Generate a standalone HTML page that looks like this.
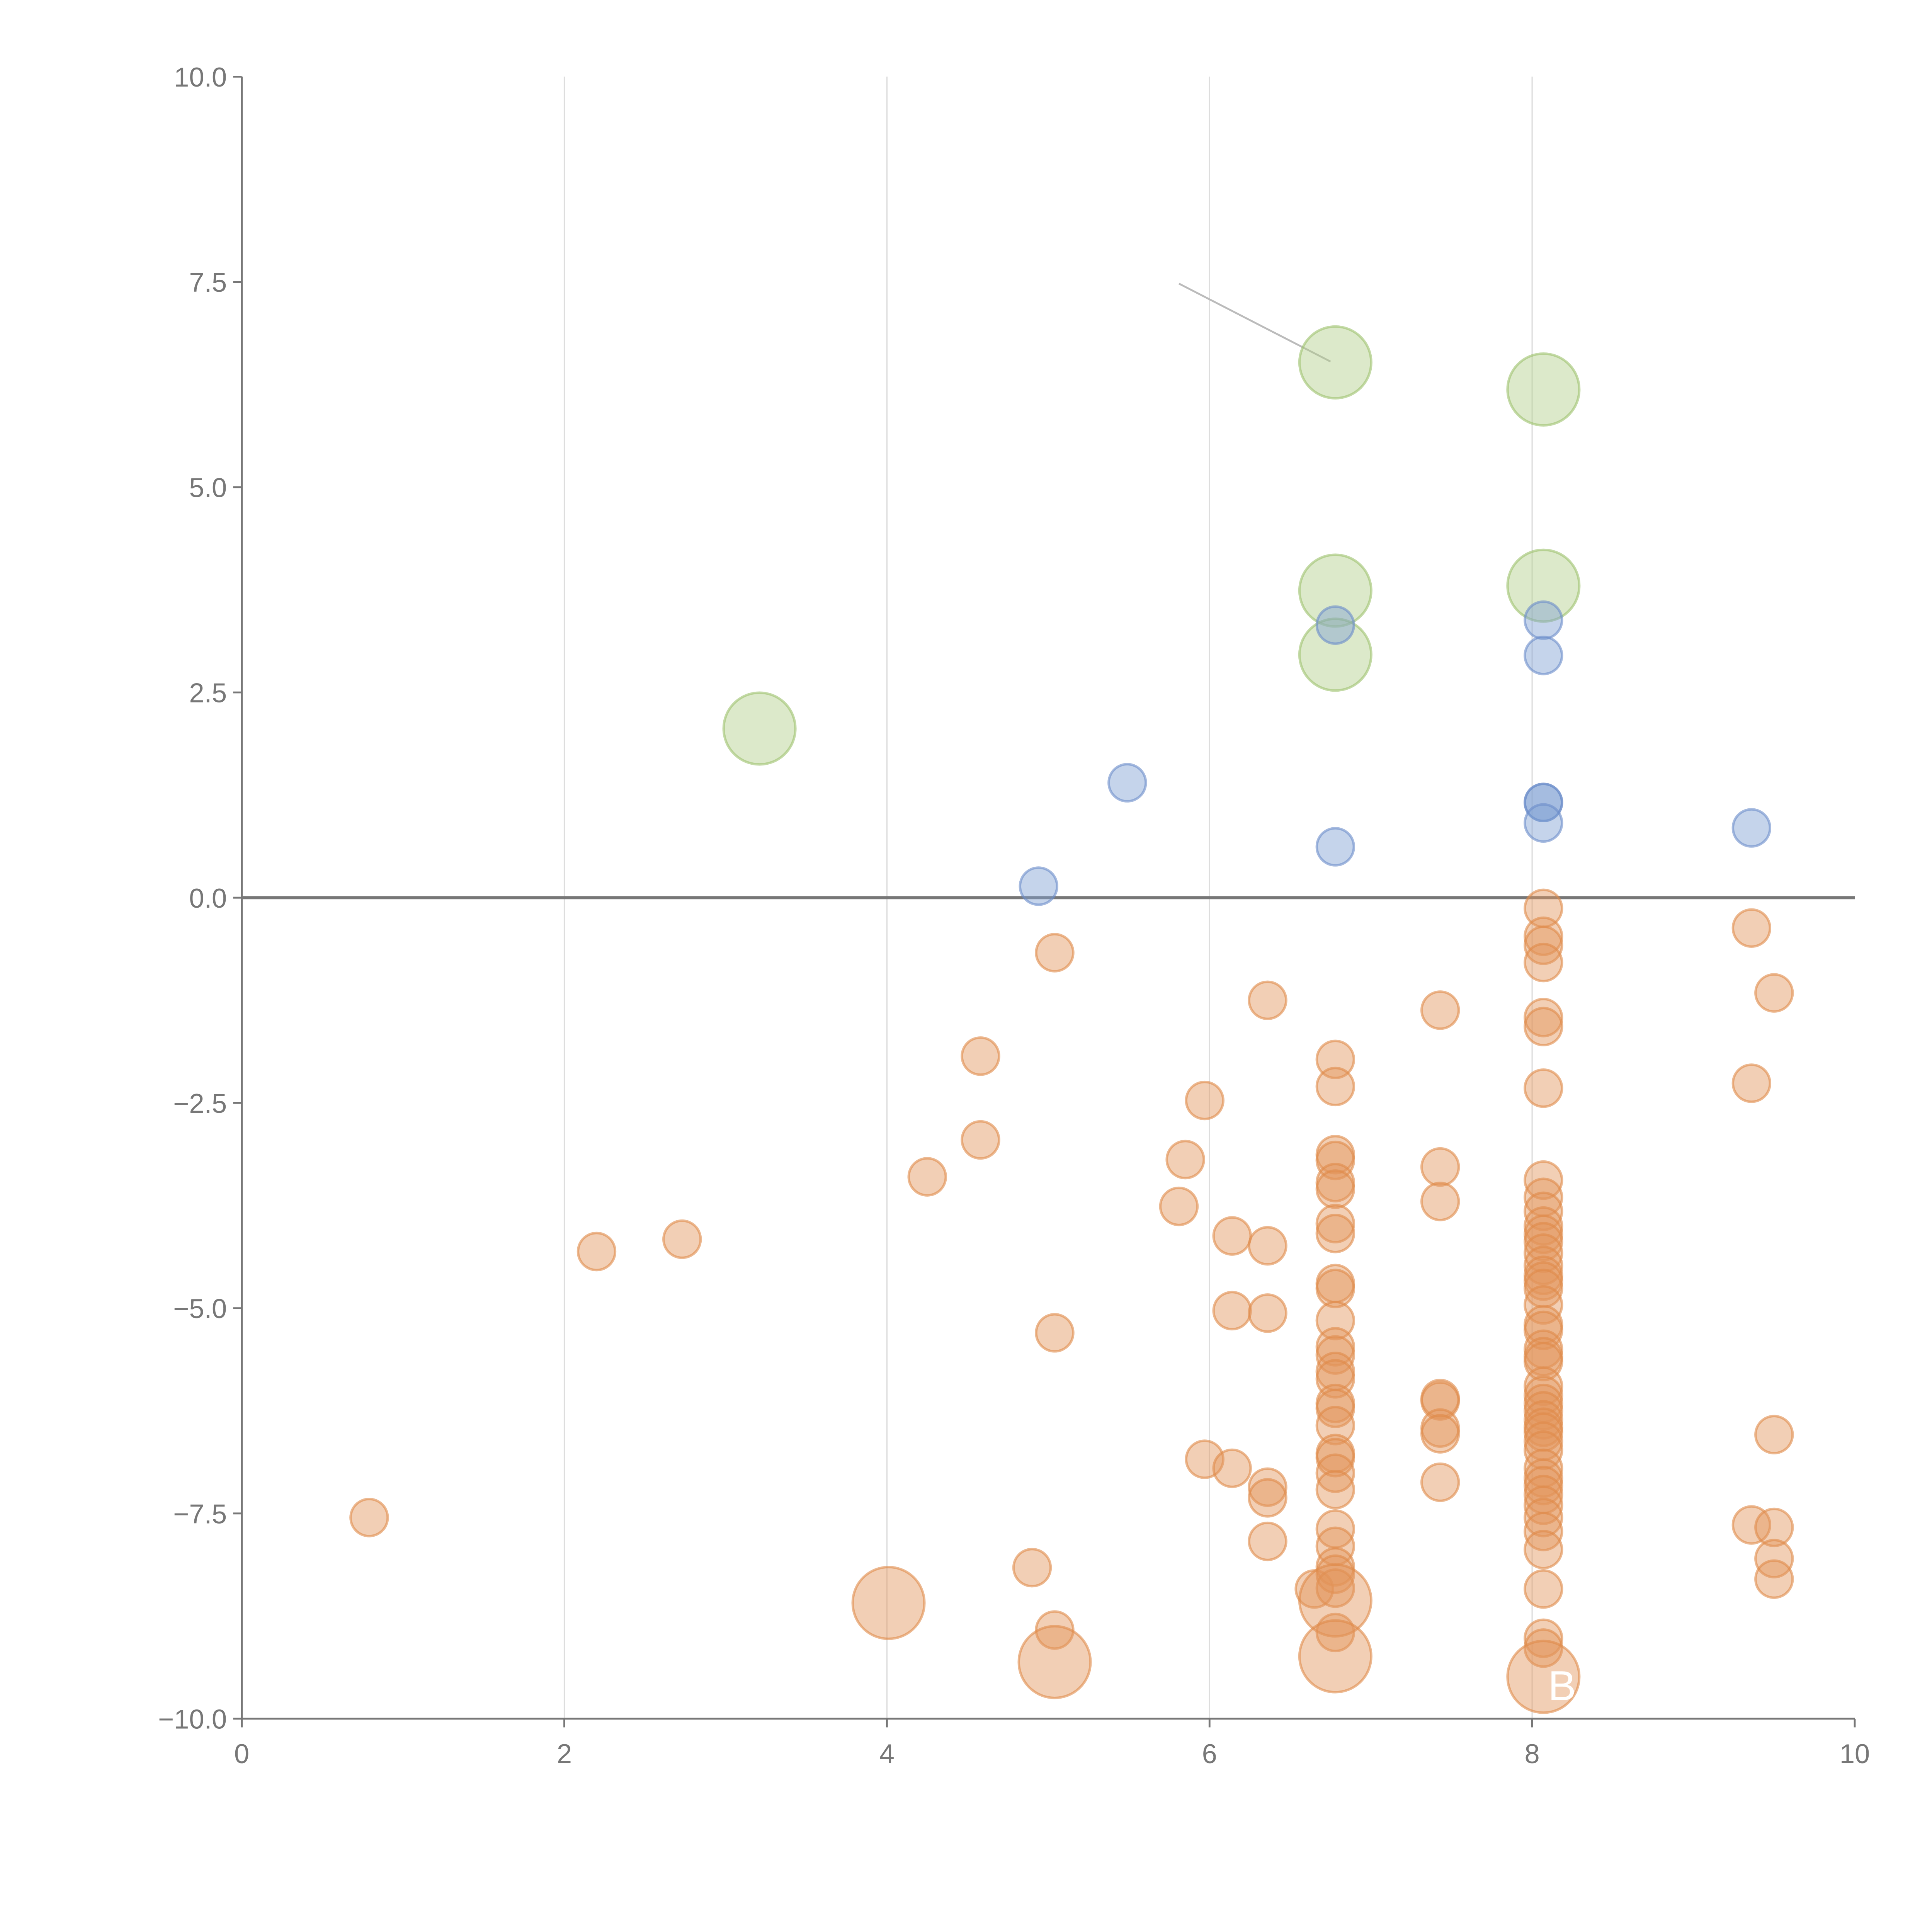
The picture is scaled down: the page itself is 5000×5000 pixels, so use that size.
<!DOCTYPE html>
<html><head><meta charset="utf-8"><style>html,body{margin:0;padding:0;background:#fff}svg{display:block}</style></head>
<body>
<svg id="chart" width="5000" height="5000" viewBox="0 0 1562.5 1562.5" xmlns="http://www.w3.org/2000/svg" font-family="Liberation Sans, sans-serif">
<g id="grid"></g>
<g id="axes"></g>
<line id="ann" stroke="#bbb" stroke-width="1.5"/>
<g id="marks"></g>
<text x="1252" y="1375" font-size="34" fill="#fff">B</text>
</svg>
<script>
const greenX=[3.21,6.78,8.07,6.78,8.07,6.78];
const greenY=[2.06,6.52,6.19,3.74,3.80,2.96];
const blueX=[4.94,5.49,6.78,6.78,8.07,8.07,8.07,8.07,8.07,9.36];
const blueY=[0.14,1.40,0.62,3.32,3.38,2.95,1.16,1.16,0.91,0.85];
const bigOrangeX=[4.01,5.04,6.78,6.78,8.07];
const bigOrangeY=[-8.59,-9.31,-8.56,-9.24,-9.49];
const orangeX=[0.79,2.20,2.73,4.25,4.58,4.58,5.04,5.04,4.90,5.04,5.85,5.81,5.97,5.97,6.14,6.14,6.14,6.36,6.36,6.36,6.36,6.36,6.36,6.65,
6.78,6.78,6.78,6.78,6.78,6.78,6.78,6.78,6.78,6.78,6.78,6.78,6.78,6.78,6.78,6.78,6.78,6.78,6.78,6.78,6.78,6.78,6.78,6.78,6.78,6.78,6.78,6.78,
7.43,7.43,7.43,7.43,7.43,7.43,7.43,7.43,
8.07,8.07,8.07,8.07,8.07,8.07,8.07,8.07,8.07,8.07,8.07,8.07,8.07,8.07,8.07,8.07,8.07,8.07,8.07,8.07,8.07,8.07,8.07,8.07,8.07,8.07,8.07,8.07,8.07,8.07,8.07,8.07,8.07,8.07,8.07,8.07,8.07,8.07,8.07,8.07,8.07,8.07,8.07,8.07,
9.36,9.36,9.36,9.50,9.50,9.50,9.50,9.50];
const orangeY=[-7.55,-4.31,-4.16,-3.40,-1.93,-2.95,-0.67,-5.30,-8.16,-8.92,-3.19,-3.76,-2.47,-6.84,-4.12,-5.03,-6.95,-1.25,-4.24,-5.06,-7.18,-7.31,-7.84,-8.42,
-1.97,-2.30,-3.13,-3.20,-3.47,-3.55,-3.97,-4.09,-4.70,-4.76,-5.15,-5.47,-5.57,-5.77,-5.86,-6.16,-6.22,-6.43,-6.77,-6.82,-7.01,-7.21,-7.69,-7.90,-8.15,-8.24,-8.41,-8.95,
-1.37,-3.28,-3.70,-6.10,-6.13,-6.46,-6.53,-7.12,
-0.13,-0.47,-0.58,-0.79,-1.46,-1.57,-2.32,-3.44,-3.65,-3.82,-4.00,-4.10,-4.19,-4.33,-4.48,-4.60,-4.67,-4.76,-4.96,-5.20,-5.27,-5.50,-5.59,-5.65,-5.95,-6.06,-6.16,-6.25,-6.36,-6.45,-6.51,-6.62,-6.73,-6.95,-7.07,-7.16,-7.27,-7.40,-7.55,-7.72,-7.94,-8.42,-9.02,-9.14,
-0.37,-2.26,-7.64,-1.16,-6.54,-7.67,-8.05,-8.30];
const xTicks=[0,2,4,6,8,10];
const yTicks=[10,7.5,5,2.5,0,-2.5,-5,-7.5,-10];
const yTickLabels=["10.0","7.5","5.0","2.5","0.0","\u22122.5","\u22125.0","\u22127.5","\u221210.0"];
const annX=[5.81,6.75], annY=[7.48,6.53];

const X0=195.5,X1=1500,Y0=1390,Y1=62;
const sx=v=>X0+(v-0)/(10-0)*(X1-X0);
const sy=v=>Y0-(v+10)/20*(Y0-Y1);
const NS="http://www.w3.org/2000/svg";
function mk(parent,tag,attrs){const e=document.createElementNS(NS,tag);for(const k in attrs)e.setAttribute(k,attrs[k]);parent.appendChild(e);return e;}
const grid=document.getElementById('grid'),axes=document.getElementById('axes'),marks=document.getElementById('marks');
xTicks.forEach(t=>{
  if(t>0&&t<10){const g=mk(grid,'line',{x1:sx(t),x2:sx(t),y1:Y1,y2:Y0,stroke:'#ddd','stroke-width':1});
  
  }
  const tk=mk(axes,'line',{x1:sx(t),x2:sx(t),y1:Y0,y2:Y0+7,stroke:'#777','stroke-width':1.5});
  
  
  const tx=mk(axes,'text',{x:sx(t),y:Y0+36,'text-anchor':'middle','font-size':22,fill:'#777'});tx.textContent=t;
  
  
});
yTicks.forEach((t,i)=>{
  const tk=mk(axes,'line',{x1:X0-7,x2:X0,y1:sy(t),y2:sy(t),stroke:'#777','stroke-width':1.5});
  
  
  const tx=mk(axes,'text',{x:X0-12,y:sy(t)+8,'text-anchor':'end','font-size':22,fill:'#777'});tx.textContent=yTickLabels[i];
  
  
});
let a=mk(axes,'line',{x1:X0,x2:X0,y1:Y1,y2:Y0,stroke:'#777','stroke-width':1.5});


a=mk(axes,'line',{x1:X0,x2:X1,y1:Y0,y2:Y0,stroke:'#777','stroke-width':1.5});


a=mk(axes,'line',{x1:X0,x2:X1,y1:sy(0),y2:sy(0),stroke:'#777','stroke-width':2.5});


const ann=document.getElementById('ann');
ann.setAttribute('x1',sx(annX[0]));ann.setAttribute('y1',sy(annY[0]));ann.setAttribute('x2',sx(annX[1]));ann.setAttribute('y2',sy(annY[1]));
function series(xs,ys,r,fill,stroke,name){
  xs.forEach((x,i)=>{
    const c=mk(marks,'circle',{cx:sx(x),cy:sy(ys[i]),r:r,fill:fill,'fill-opacity':0.45,stroke:stroke,'stroke-opacity':0.6,'stroke-width':2});
    
    
  });
}
series(greenX,greenY,29,'#b2cf8a','#9dc26c','green-bubble');
series(orangeX,orangeY,15,'#e2955a','#e08a4a','orange-bubble');
series(bigOrangeX,bigOrangeY,29,'#e2955a','#e08a4a','large-orange-bubble');
series(blueX,blueY,15,'#7f9fd3','#6a8cc9','blue-bubble');
</script>
</body></html>
